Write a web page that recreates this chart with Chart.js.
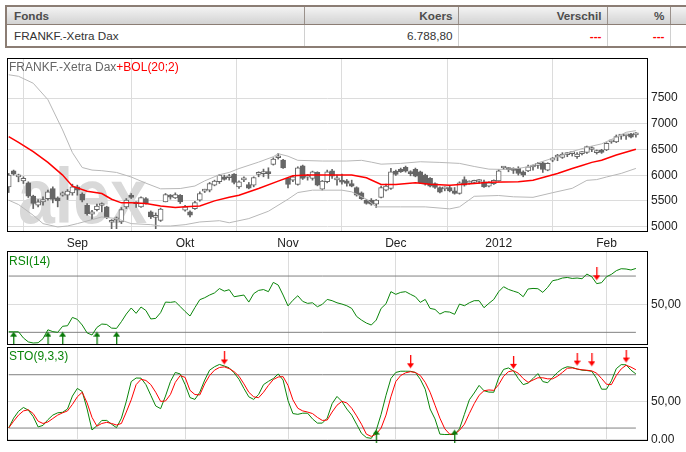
<!DOCTYPE html>
<html>
<head>
<meta charset="utf-8">
<script src="https://cdn.jsdelivr.net/npm/chart.js@4.4.1/dist/chart.umd.min.js"></script>
<style>
  body { margin: 0; background: #fff; width: 686px; height: 452px; overflow: hidden; position: relative; }
  #quote {
    position: absolute; left: 5px; top: 5px; width: 700px;
    border-collapse: collapse; table-layout: fixed;
    font-family: "Liberation Sans", Arial, sans-serif;
    font-size: 11.7px; color: #333;
    border: 2px solid #8b7d74;
  }
  #quote th, #quote td { padding: 0 5px 0 7px; white-space: nowrap; overflow: hidden; }
  #quote th {
    height: 17px; font-weight: bold; color: #4d4d4d;
    background: linear-gradient(#f3f3f3, #d3d3d3);
    border-left: 1px solid #9a918b; border-bottom: 1px solid #8b7d74;
  }
  #quote td { height: 21px; border-left: 1px solid #d0d0d0; }
  #quote .num { text-align: right; }
  #quote td.red { color: #ff0000; font-weight: bold; }
  .panel { position: absolute; left: 0; }
</style>
</head>
<body>
<table id="quote">
  <colgroup><col style="width:298px"><col style="width:154px"><col style="width:149px"><col style="width:63px"><col style="width:36px"></colgroup>
  <tr><th style="text-align:left">Fonds</th><th class="num">Koers</th><th class="num">Verschil</th><th class="num">%</th><th></th></tr>
  <tr><td>FRANKF.-Xetra Dax</td><td class="num">6.788,80</td><td class="num red">---</td><td class="num red">---</td><td></td></tr>
</table>

<canvas id="mainChart" class="panel" width="686" height="200" style="top:50px"></canvas>
<canvas id="rsiChart" class="panel" width="686" height="96" style="top:250px"></canvas>
<canvas id="stoChart" class="panel" width="686" height="106" style="top:346px"></canvas>

<script>
// trading days Aug 12 2011 .. Feb 9 2012 (index 0..128)
const monthDays = [14, 36, 57, 79, 100, 122];
const monthLabels = ['Sep', 'Okt', 'Nov', 'Dec', '2012', 'Feb'];
const priceTicks = [5000, 5500, 6000, 6500, 7000, 7500];

const candleOpen = [5774,6087,5969,5891,5852,5592,5416,5481,5546,5741,
  5559,5611,5611,5657,5774,5631,5416,5241,5331,5410,
  5384,5085,5130,5091,5384,5611,5455,5384,5546,5286,
  5180,5120,5481,5585,5559,5611,5318,5286,5351,5514,
  5690,5709,5807,5872,5969,5950,6021,5774,5910,5820,
  5807,6015,6030,6040,6210,6340,6295,5937,5904,5820,
  6184,5960,5937,6054,5728,5872,6087,5910,5904,5891,
  5839,5761,5657,5514,5514,5436,5566,5709,5741,6080,
  6113,6152,6040,6113,6067,6002,5937,5839,5761,5735,
  5761,5696,5644,5917,5845,5860,5878,5872,5787,5835,
  5891,6140,6120,6105,6132,6067,6086,6160,6190,6243,
  6099,6295,6355,6347,6400,6420,6360,6420,6445,6500,
  6440,6491,6491,6650,6647,6760,6765,6803,6785];
const candleHigh = [6034,6100,6021,5969,5872,5611,5527,5579,5709,5774,
  5579,5676,5722,5826,5807,5657,5449,5318,5436,5462,
  5397,5136,5188,5371,5546,5644,5481,5579,5566,5305,
  5266,5360,5644,5624,5657,5624,5416,5305,5494,5676,
  5728,5859,5904,6015,6002,6015,6034,5891,5969,5859,
  5969,6067,6119,6145,6340,6425,6308,5956,5989,6164,
  6197,6015,6080,6067,5898,6100,6113,6002,6021,5917,
  5904,5774,5676,5527,5546,5527,5787,5826,6132,6100,
  6139,6178,6087,6139,6080,6021,5956,5852,5774,5774,
  5787,5761,5872,5969,5891,5904,5917,5904,5872,5910,
  6112,6165,6145,6145,6165,6086,6197,6197,6249,6262,
  6243,6347,6406,6439,6439,6458,6439,6458,6569,6556,
  6491,6504,6634,6686,6783,6783,6796,6816,6829];
const candleLow = [5663,6002,5872,5839,5566,5351,5384,5416,5514,5462,
  5384,5592,5527,5611,5611,5481,5221,5136,5305,5286,
  5156,4960,4960,5058,5351,5546,5371,5371,5436,5156,
  4960,5100,5481,5533,5546,5449,5299,5188,5332,5494,
  5663,5676,5793,5839,5904,5904,5832,5741,5872,5735,
  5774,5969,5969,5937,6197,6314,6132,5754,5872,5807,
  5917,5904,5904,5793,5709,5852,5937,5807,5826,5787,
  5774,5592,5527,5436,5416,5371,5559,5696,5722,5995,
  6054,6060,5989,5969,5839,5807,5774,5741,5657,5696,
  5676,5631,5631,5787,5826,5839,5839,5761,5774,5820,
  5884,6112,6067,6034,6002,5969,6067,6099,6132,6054,
  6086,6262,6282,6327,6360,6373,6327,6393,6425,6458,
  6412,6425,6478,6621,6634,6699,6699,6725,6738];
const candleClose = [6002,6021,6002,5937,5592,5449,5481,5527,5676,5527,
  5501,5657,5689,5774,5709,5514,5253,5286,5397,5420,
  5175,5095,5142,5331,5514,5566,5445,5566,5449,5188,
  5195,5340,5624,5575,5624,5481,5383,5221,5468,5644,
  5700,5839,5885,6002,5917,5960,5859,5872,5920,5748,
  5956,6047,6040,6030,6314,6350,6140,5820,5969,6145,
  5937,5975,6067,5807,5885,6067,5982,5917,5865,5839,
  5787,5611,5546,5449,5436,5514,5761,5787,6067,6015,
  6067,6080,6030,5982,5852,5826,5787,5761,5670,5745,
  5696,5644,5852,5807,5855,5868,5888,5774,5852,5900,
  6086,6150,6110,6095,6034,6002,6165,6170,6200,6112,
  6230,6327,6365,6412,6410,6430,6412,6430,6556,6510,
  6450,6445,6621,6660,6751,6770,6775,6738,6789];

// Bollinger (20;2)
const bolUpperDays = [0,2,5,8,11,13,15,17,19,22,25,28,31,35,38,40,43,45,47,51,54,55,57,59,64,69,72,74,76,80,84,88,92,95,98,101,104,106,108,111,113,115,118,121,124,126,128];
const bolUpper = [7955,7925,7790,7470,6880,6440,6150,6100,6088,6054,5965,5845,5735,5741,5790,5890,6010,6054,6130,6255,6360,6419,6370,6290,6276,6276,6290,6255,6215,6230,6262,6249,6230,6170,6118,6113,6132,6165,6240,6330,6385,6460,6545,6610,6740,6835,6868];
const bolMiddleDays = [0,2,5,8,11,13,16,19,21,23,25,28,31,34,36,39,42,45,47,51,55,58,61,67,70,73,76,79,83,86,90,95,98,104,107,112,115,117,119,121,124,128];
const bolMiddle = [6751,6640,6458,6249,6002,5787,5689,5644,5533,5462,5462,5449,5403,5371,5384,5403,5501,5570,5611,5741,5885,5990,6002,6002,6002,5950,5820,5820,5852,5826,5807,5839,5862,5872,5904,6035,6132,6190,6250,6290,6393,6504];
const bolLowerDays = [0,2,5,7,10,12,14,17,19,22,25,29,31,33,36,39,43,45,49,53,57,59,62,68,70,73,75,80,85,90,92,95,100,103,107,111,115,118,120,122,125,128];
const bolLower = [5514,5429,5221,5058,4993,5012,5058,5136,5188,5156,5058,5038,5012,5012,5038,5090,5115,5075,5156,5299,5533,5663,5709,5709,5676,5533,5384,5384,5384,5345,5384,5590,5605,5580,5570,5660,5745,5900,5915,5965,6035,6132];

const rsiValues = [30.4,30.4,30.4,26,23.2,22.4,22.6,25.5,31.8,30.5,
  30,34.3,34.7,40.6,39.2,35.2,29.6,28.1,33.5,35.9,
  35.6,33,32.8,37.6,43,47.3,43.5,48,45.5,39.5,
  39.9,44,51.5,51.3,51.8,48.3,44.8,41.6,47.6,53.2,
  54.6,56.5,58,61.1,59.3,60.3,55.3,55.9,56.5,51.5,
  57.5,59.8,60.4,58.9,65.5,63.6,56.5,48.8,52.8,56,
  52,50.6,51,48.2,49.9,53.4,52.5,51,50.1,48.9,
  47,41.3,38.7,36.6,35.2,38.7,47,50.3,58.9,57,
  58.4,58.9,57,55.3,51.3,53.4,47,46.3,43,44.7,
  44.4,42.8,50.1,48.9,51,52.5,52.5,47.5,50.6,53.4,
  58.9,62.4,60.5,59.3,58.2,55.3,60.8,61.2,61,58.4,
  62,66.7,67.4,68.6,69,68.3,68.6,68.1,71.4,69.5,
  64.6,65.3,69.5,71.2,73.8,75.2,75,74.3,75.4];
const rsiLevels = [70, 30];
const rsiBuyDays = [1, 8, 11, 18, 22];
const rsiBuyLevel = 30.5;
const rsiSellDays = [120];
const rsiSellLevel = 67;

const stoK = [15.2,28,37,42,38.5,30,16.5,18.5,26,32,
  35,35.7,40,57,67,63,40,12.5,18,25,
  25,20,15.5,28,50,76,80.7,80.5,72,58,
  44,40.5,57,76,88,86,72,55,52.6,62,
  78,91,95.5,98.5,96.5,94,87.5,79,67,56,
  52.6,59,72,76.3,80,86,78,51,34,33,
  34.5,34.5,27,21.5,21.5,28,47,56.5,50,40,
  32,20,8,2.5,1.5,12,33,58,80,88,
  89.6,89.6,89.5,88,79,66,40,27,7,6.5,
  6.5,6.5,14,33,52,61,71,64,62.2,62,
  81,92,93.9,90,80,72,74,80,86.5,76,
  74.5,81.5,88,93,95.5,94.6,92.5,91,90.5,89.5,
  80,66,66,77,93,98.3,98,91,86];
const stoD = [15.2,24,32,37.5,39,34,24,21,23,27.5,
  32,35,37.5,46,56,62,48,29,17.5,21,
  22.5,21,19,21,36,52,72,79,77.5,72,
  62,50,50.5,59,75,83.9,81.5,64.5,59,58.5,
  73,84,91,94.5,95.3,93,89,83,73,62,
  56,54.8,62,71,78.7,82,82.5,71,52,41,
  37.5,36,34,29,25,25.5,36,45,50,48,
  41,31,20,7,4,7,15,32,56,76,
  84,87.5,89,88,84,75,62,45,28,14,
  7,7,12,20,34,47,58,64,65,64.5,
  72,83,89,90.3,87,80,75,78,81,81,
  79.6,79.6,83,88,93.5,93.9,92.5,91.5,90.9,90,
  87,80,72.5,72,84,92.6,97.5,95,91.5];
const stoLevels = [85, 15];
const stoBuyDays = [75, 91];
const stoBuyLevel = 13;
const stoSellDays = [44, 82, 103, 116, 119, 126];
const stoSellValues = [98.5, 93.5, 92.7, 97, 96.1, 101];

const lastDay = candleOpen.length - 1;
const X_MIN = -0.35, X_MAX = 130.47;
const FONT = "'Liberation Sans', Arial, sans-serif";
const GREEN = '#0a850a';

const xy = (xs, ys) => xs.map((x, k) => ({ x, y: ys[k] }));
const levelLine = v => [{ x: 0, y: v }, { x: lastDay, y: v }];
const fmtOsc = v => v === 0 ? '0.00' : v.toFixed(2).replace('.', ',');

function makeArrow(color, up) {
  const c = document.createElement('canvas');
  c.width = 7; c.height = 26;
  const g = c.getContext('2d');
  g.fillStyle = color;
  g.beginPath();
  if (up) {
    g.moveTo(3.5, 13); g.lineTo(7, 18); g.lineTo(0, 18);
  } else {
    g.moveTo(3.5, 13); g.lineTo(7, 8); g.lineTo(0, 8);
  }
  g.closePath(); g.fill();
  if (up) g.fillRect(3, 18, 1.3, 8); else g.fillRect(3, 0, 1.3, 8);
  return c;
}
const upArrow = makeArrow('#0a7a0a', true);
const downArrow = makeArrow('#ff0000', false);

const framePlugin = {
  id: 'frame',
  afterDatasetsDraw(chart) {
    const { ctx, chartArea: a } = chart;
    ctx.save();
    ctx.strokeStyle = '#000';
    ctx.lineWidth = 1;
    ctx.strokeRect(Math.round(a.left) + 0.5, Math.round(a.top) + 0.5,
      Math.round(a.right - a.left) - 1, Math.round(a.bottom - a.top) - 1);
    ctx.restore();
  }
};

// legend text in the top-left corner of each panel
const titlePlugin = {
  id: 'panelTitle',
  afterDraw(chart, args, opts) {
    const { ctx, chartArea: a } = chart;
    ctx.save();
    ctx.font = '12px ' + FONT;
    ctx.textBaseline = 'alphabetic';
    let x = a.left + 2;
    opts.parts.forEach(([text, color]) => {
      ctx.fillStyle = color;
      ctx.fillText(text, x, a.top + opts.baseline);
      x += ctx.measureText(text).width;
    });
    ctx.restore();
  }
};

const watermarkPlugin = {
  id: 'watermark',
  beforeDatasetsDraw(chart) {
    const { ctx, chartArea: a } = chart;
    ctx.save();
    ctx.font = 'bold 77px ' + FONT;
    ctx.fillStyle = '#d9d9d9';
    const w = ctx.measureText('alex').width;
    ctx.translate(a.left + 11, a.bottom - 9);
    ctx.scale(129 / w, 1);
    ctx.fillText('alex', 0, 0);
    ctx.restore();
  }
};

function xScale(showLabels) {
  return {
    type: 'linear', min: X_MIN, max: X_MAX, offset: false,
    afterBuildTicks: s => { s.ticks = monthDays.map(v => ({ value: v })); },
    ticks: {
      display: showLabels, autoSkip: false, maxRotation: 0, padding: 4,
      color: '#222', font: { family: FONT, size: 12 },
      callback: (v, i) => monthLabels[i]
    },
    grid: { color: '#dcdcdc', drawTicks: false },
    border: { display: false },
    afterFit: s => {
      s.height = showLabels ? 18 : 0;
      s.paddingLeft = 0; s.paddingRight = 0;
    }
  };
}

function yScale(min, max, tickValues, fmt) {
  return {
    position: 'right', min, max,
    afterBuildTicks: s => { s.ticks = tickValues.map(v => ({ value: v })); },
    ticks: { color: '#222', font: { family: FONT, size: 12 }, padding: 3, callback: fmt },
    grid: { color: '#dcdcdc', drawTicks: false },
    border: { display: false },
    afterFit: s => {
      s.width = 38;
      s.paddingTop = 0; s.paddingBottom = 0;
    }
  };
}

const baseOptions = {
  responsive: false,
  animation: false,
  events: [],
  plugins: { legend: { display: false }, tooltip: { enabled: false } }
};

const lineDs = (data, color, width, order) => ({
  type: 'line', data, borderColor: color, borderWidth: width,
  pointRadius: 0, tension: 0, fill: false, order
});

const arrowDs = (data, img) => ({
  type: 'scatter', data, pointStyle: img, pointRadius: 4, order: 0, clip: false
});

// 1. price panel: candles + Bollinger
const isUp = i => candleClose[i] >= candleOpen[i];
const dayIdx = candleOpen.map((_, i) => i);

new Chart(document.getElementById('mainChart'), {
  type: 'bar',
  data: {
    datasets: [
      {
        data: dayIdx.map(i => ({ x: i, y: [candleLow[i], candleHigh[i]] })),
        backgroundColor: '#666', barThickness: 1, grouped: false, order: 3
      },
      {
        data: dayIdx.map(i => ({ x: i, y: [candleOpen[i], candleClose[i]] })),
        backgroundColor: c => isUp(c.dataIndex) ? '#ffffff' : '#666666',
        borderColor: '#666', borderWidth: 1, borderSkipped: false,
        barThickness: 5, minBarLength: 2, grouped: false, order: 2
      },
      lineDs(xy(bolUpperDays, bolUpper), '#b8b8b8', 1, 1),
      lineDs(xy(bolLowerDays, bolLower), '#b8b8b8', 1, 1),
      lineDs(xy(bolMiddleDays, bolMiddle), '#ff0000', 1.5, 0)
    ]
  },
  options: {
    ...baseOptions,
    layout: { autoPadding: false, padding: { left: 7, top: 8, right: 0, bottom: 0 } },
    scales: {
      x: xScale(true),
      y: yScale(4895, 8281, priceTicks, v => String(v))
    },
    plugins: {
      ...baseOptions.plugins,
      panelTitle: { baseline: 13, parts: [['FRANKF.-Xetra Dax', '#666666'], ['+BOL(20;2)', '#ff0000']] }
    }
  },
  plugins: [watermarkPlugin, framePlugin, titlePlugin]
});

// 2. RSI(14)
new Chart(document.getElementById('rsiChart'), {
  type: 'line',
  data: {
    datasets: [
      ...rsiLevels.map(v => lineDs(levelLine(v), '#808080', 1, 3)),
      lineDs(xy(dayIdx, rsiValues), GREEN, 1, 1),
      arrowDs(rsiBuyDays.map(d => ({ x: d, y: rsiBuyLevel })), upArrow),
      arrowDs(rsiSellDays.map(d => ({ x: d, y: rsiSellLevel })), downArrow)
    ]
  },
  options: {
    ...baseOptions,
    layout: { autoPadding: false, padding: { left: 7, top: 1, right: 0, bottom: 1 } },
    scales: {
      x: xScale(false),
      y: yScale(21, 87.8, [50], fmtOsc)
    },
    plugins: {
      ...baseOptions.plugins,
      panelTitle: { baseline: 14, parts: [['RSI(14)', GREEN]] }
    }
  },
  plugins: [framePlugin, titlePlugin]
});

// 3. STO(9,3,3)
new Chart(document.getElementById('stoChart'), {
  type: 'line',
  data: {
    datasets: [
      ...stoLevels.map(v => lineDs(levelLine(v), '#808080', 1, 3)),
      lineDs(xy(dayIdx, stoK), GREEN, 1, 2),
      lineDs(xy(dayIdx, stoD), '#ff0000', 1, 1),
      arrowDs(stoBuyDays.map(d => ({ x: d, y: stoBuyLevel })), upArrow),
      arrowDs(xy(stoSellDays, stoSellValues), downArrow)
    ]
  },
  options: {
    ...baseOptions,
    layout: { autoPadding: false, padding: { left: 7, top: 1, right: 0, bottom: 11 } },
    scales: {
      x: xScale(false),
      y: yScale(-2, 121.4, [50, 0], fmtOsc)
    },
    plugins: {
      ...baseOptions.plugins,
      panelTitle: { baseline: 13, parts: [['STO(9,3,3)', GREEN]] }
    }
  },
  plugins: [framePlugin, titlePlugin]
});
</script>
</body>
</html>
